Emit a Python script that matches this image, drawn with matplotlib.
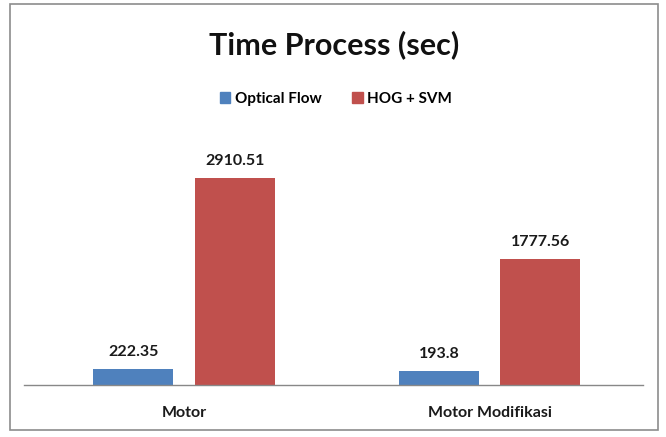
import matplotlib
matplotlib.use("Agg")
import matplotlib.pyplot as plt
from matplotlib.patches import Rectangle, Patch
import numpy as np

categories = ["Motor", "Motor Modifikasi"]
optical_flow = [222.35, 193.8]
hog_svm = [2910.51, 1777.56]
value_labels_of = ["222.35", "193.8"]
value_labels_hog = ["2910.51", "1777.56"]

plt.rcParams['font.family'] = ['Lato', 'DejaVu Sans']

W, H = 666, 437
fig = plt.figure(figsize=(W/100, H/100), dpi=100)
fig.patch.set_facecolor("white")

# outer border
fig.patches.append(Rectangle((10/W, 1-430/H), 648/W, 426/H, transform=fig.transFigure,
                             fill=False, edgecolor="#8c8c8c", linewidth=1.2))

ax = fig.add_axes([24/W, 1-385/H, 619/W, 284.4/H])
x = np.arange(len(categories))
bw = 0.262
off = 0.166
c_blue = "#4F81BD"
c_red = "#C0504D"
b1 = ax.bar(x - off, optical_flow, bw, color=c_blue, label="Optical Flow")
b2 = ax.bar(x + off, hog_svm, bw, color=c_red, label="HOG + SVM")

for rect, lab in zip(b1, value_labels_of):
    ax.annotate(lab, (rect.get_x()+rect.get_width()/2, rect.get_height()),
                xytext=(0, 7), textcoords="offset points", ha="center", va="bottom",
                fontsize=11.5, fontweight="bold", color="#1a1a1a")
for rect, lab in zip(b2, value_labels_hog):
    ax.annotate(lab, (rect.get_x()+rect.get_width()/2, rect.get_height()),
                xytext=(0, 7), textcoords="offset points", ha="center", va="bottom",
                fontsize=11.5, fontweight="bold", color="#1a1a1a")

ax.set_xlim(-0.524, 1.502)
ax.set_ylim(0, 4000)
ax.set_xticks(x)
ax.set_xticklabels(categories, fontsize=11.5, fontweight="bold", color="#1a1a1a")
ax.tick_params(axis="x", length=0, pad=15)
ax.set_yticks([])
for s in ["top", "right", "left"]:
    ax.spines[s].set_visible(False)
ax.spines["bottom"].set_color("#888888")
ax.spines["bottom"].set_linewidth(1.0)

fig.text(334/W, 1-45/H, "Time Process (sec)", ha="center", va="center",
         fontsize=22, fontweight="bold", color="#111111")

handles = [Patch(color=c_blue, label="Optical Flow"), Patch(color=c_red, label="HOG + SVM")]
fig.legend(handles=handles, loc="center", bbox_to_anchor=(336/W, 1-99/H), ncol=2,
           frameon=False, prop={"size": 11, "weight": "bold"}, handlelength=0.7,
           handleheight=0.7, handletextpad=0.3, columnspacing=2.0)

fig.savefig("out.png", dpi=100)
